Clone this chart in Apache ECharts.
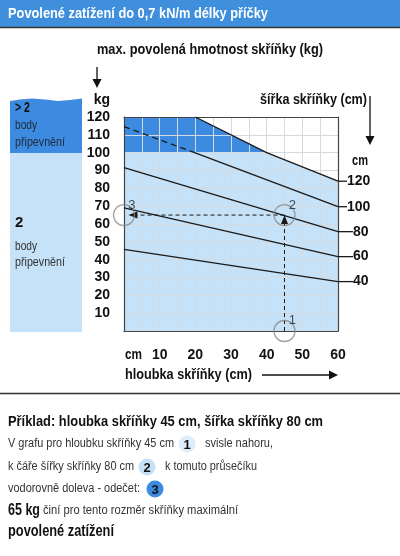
<!DOCTYPE html>
<html>
<head>
<meta charset="utf-8">
<title>Povolené zatížení</title>
<script src="https://cdn.jsdelivr.net/npm/echarts@6/dist/echarts.min.js"></script>
<style>
  html, body { margin: 0; padding: 0; background: #fff; }
  #chart { width: 400px; height: 556px; }
</style>
</head>
<body>
<div id="chart"></div>
<script>
// osa x: hloubka skříňky (cm), osa y: max. povolená hmotnost (kg)
const depthLabels = [10, 20, 30, 40, 50, 60];
const weightLabels = [10, 20, 30, 40, 50, 60, 70, 80, 90, 100, 110, 120];

// horní hranice pole (čára šířky 120 cm) a oblasti podbarvení
const zoneAll = [[0, 120], [20, 120], [40, 100], [60, 84]];
const zoneMulti = [[0, 120], [20, 120], [40, 100]];
const zoneTwo = [[0, 100], [40, 100]];

// čáry šířky skříňky
const line120 = [[20, 120], [40, 100], [60, 84]];
const line100Dashed = [[0, 114.6], [19.4, 100.3]];
const line100 = [[19.4, 100.3], [60, 69.7]];
const line80 = [[0, 91.6], [60, 55.7]];
const line60 = [[0, 69.1], [60, 41.7]];
const line40 = [[0, 45.8], [60, 27.7]];
const widthNames = ['120', '100', '80', '60', '40'];

// příklad: hloubka 45 cm, šířka 80 cm -> 65 kg
const exampleDepth = 45;
const exampleWeight = 65;
const exampleSteps = ['1', '2', '3'];

const DARK = '#3d8be0';
const LIGHT = '#c5e2f8';
const FONT = '"Liberation Sans", Arial, sans-serif';

const chart = echarts.init(document.getElementById('chart'), null, { renderer: 'canvas' });

// text helper, squeezes text to the width measured on the picture
const mctx = document.createElement('canvas').getContext('2d');
function txt(x, y, s, size, weight, w, color, align) {
  let sx = 1;
  if (w) {
    mctx.font = weight + ' ' + size + 'px ' + FONT;
    sx = w / mctx.measureText(s).width;
  }
  return {
    type: 'text', x: x, y: y, scaleX: sx, z: 20,
    style: {
      text: s, fill: color || '#111', fontSize: size, fontWeight: weight,
      fontFamily: FONT, align: align || 'left', verticalAlign: 'middle'
    }
  };
}
function badge(x, y, s, fill) {
  return {
    type: 'group', x: x, y: y, z: 20,
    children: [
      { type: 'circle', shape: { cx: 0, cy: 0, r: 8.5 }, style: { fill: fill } },
      { type: 'text', style: { text: s, x: 0, y: 1, fontSize: 13, fontWeight: 'bold', fontFamily: FONT,
        fill: '#111', align: 'center', verticalAlign: 'middle' } }
    ]
  };
}
function arrowDown(x, y1, y2) {
  return [
    { type: 'line', z: 20, shape: { x1: x, y1: y1, x2: x, y2: y2 - 8 }, style: { stroke: '#111', lineWidth: 1.3 } },
    { type: 'polygon', z: 20, shape: { points: [[x - 4.5, y2 - 9], [x + 4.5, y2 - 9], [x, y2]] }, style: { fill: '#111' } }
  ];
}

function widthLine(data, name, dashed) {
  const s = {
    type: 'line', data: data, z: 5, symbol: 'none', silent: true,
    lineStyle: { color: '#1a1a1a', width: 1.3, type: dashed ? [6, 4] : 'solid' }
  };
  if (name) {
    const tick = name.length > 2 ? 9 : 15;
    s.endLabel = {
      show: true, distance: 0,
      formatter: '{t| }{n|' + name + '}',
      rich: {
        t: { width: tick, height: 1.3, backgroundColor: '#1a1a1a' },
        n: { fontSize: 14, fontWeight: 'bold', color: '#111', fontFamily: FONT }
      }
    };
  }
  return s;
}

function zone(data, color) {
  return {
    type: 'line', data: data, z: 1, symbol: 'none', silent: true,
    lineStyle: { width: 0 }, areaStyle: { color: color, opacity: 1 }
  };
}

const option = {
  animation: false,
  backgroundColor: '#fff',
  grid: { left: 124, top: 117, width: 214, height: 214 },
  xAxis: [{
    type: 'value', min: 0, max: 60, interval: 5, z: 3,
    axisLine: { show: true, onZero: false, lineStyle: { color: '#444', width: 1.2 } },
    axisTick: { show: false },
    splitLine: { show: true, lineStyle: { color: '#d3dbe1', width: 1 } },
    axisLabel: {
      margin: 17, color: '#111', fontSize: 14, fontWeight: 'bold', fontFamily: FONT,
      formatter: v => depthLabels.includes(v) ? String(v) : ''
    }
  }, {
    type: 'value', min: 0, max: 60, position: 'top', z: 3,
    axisLine: { show: true, onZero: false, lineStyle: { color: '#444', width: 1.2 } },
    axisTick: { show: false }, axisLabel: { show: false }, splitLine: { show: false }
  }],
  yAxis: [{
    type: 'value', min: 0, max: 120, interval: 10, z: 3,
    axisLine: { show: true, onZero: false, lineStyle: { color: '#444', width: 1.2 } },
    axisTick: { show: false },
    splitLine: { show: true, lineStyle: { color: '#d3dbe1', width: 1 } },
    axisLabel: {
      margin: 14, color: '#111', fontSize: 14, fontWeight: 'bold', fontFamily: FONT,
      formatter: v => weightLabels.includes(v) ? String(v) : ''
    }
  }, {
    type: 'value', min: 0, max: 120, position: 'right', z: 3,
    axisLine: { show: true, onZero: false, lineStyle: { color: '#444', width: 1.2 } },
    axisTick: { show: false }, axisLabel: { show: false }, splitLine: { show: false }
  }],
  series: [
    zone(zoneAll, LIGHT),
    zone(zoneMulti, DARK),
    zone(zoneTwo, LIGHT),
    widthLine(line120, widthNames[0]),
    widthLine(line100Dashed, null, true),
    widthLine(line100, widthNames[1]),
    widthLine(line80, widthNames[2]),
    widthLine(line60, widthNames[3]),
    widthLine(line40, widthNames[4]),
    {
      type: 'line', z: 6, silent: true, symbol: 'none', showAllSymbol: true,
      lineStyle: { color: '#1a1a1a', width: 1, type: [4, 3] },
      itemStyle: { color: '#1a1a1a' },
      data: [[exampleDepth, 0], { value: [exampleDepth, exampleWeight - 2.5], symbol: 'triangle', symbolSize: [7, 9] }]
    },
    {
      type: 'line', z: 6, silent: true, symbol: 'none', showAllSymbol: true,
      lineStyle: { color: '#1a1a1a', width: 1, type: [4, 3] },
      itemStyle: { color: '#1a1a1a' },
      data: [[exampleDepth, exampleWeight], { value: [2.5, exampleWeight], symbol: 'triangle', symbolSize: [7, 9], symbolRotate: 90 }]
    },
    {
      type: 'scatter', z: 7, silent: true, clip: false, symbolSize: 21,
      itemStyle: { color: 'rgba(0,0,0,0)', borderColor: '#8a8a8a', borderWidth: 1.3 },
      label: {
        show: true, position: [19, 1], align: 'center', verticalAlign: 'middle',
        fontSize: 13, color: '#222', fontFamily: FONT,
        formatter: p => p.value[2]
      },
      data: [
        [exampleDepth, 0, exampleSteps[0]],
        [exampleDepth, exampleWeight, exampleSteps[1]],
        [0, exampleWeight, exampleSteps[2]]
      ]
    }
  ],
  graphic: [
    // title bar
    { type: 'rect', z: 10, shape: { x: 0, y: 0, width: 400, height: 27 }, style: { fill: '#3f8fdc' } },
    { type: 'line', z: 10, shape: { x1: 0, y1: 27.5, x2: 400, y2: 27.5 }, style: { stroke: '#333', lineWidth: 1.5 } },
    txt(8, 14, 'Povolené zatížení do 0,7 kN/m délky příčky', 14, 'bold', 260, '#fff'),

    // axis titles and arrows
    txt(97, 50, 'max. povolená hmotnost skříňky (kg)', 15, 'bold', 226),
    ...arrowDown(97, 67, 88),
    txt(110, 100, 'kg', 14, 'bold', 0, '#111', 'right'),
    txt(260, 100, 'šířka skříňky (cm)', 15, 'bold', 107),
    ...arrowDown(370, 96, 145),
    txt(352, 161, 'cm', 14, 'bold', 16),
    txt(125, 355, 'cm', 14, 'bold', 17),
    txt(125, 375, 'hloubka skříňky (cm)', 15, 'bold', 127),
    { type: 'line', z: 20, shape: { x1: 262, y1: 375, x2: 331, y2: 375 }, style: { stroke: '#111', lineWidth: 1.3 } },
    { type: 'polygon', z: 20, shape: { points: [[329, 370.5], [329, 379.5], [338, 375]] }, style: { fill: '#111' } },

    // left panel: number of fixing points
    { type: 'rect', z: 10, shape: { x: 10, y: 152, width: 72, height: 180 }, style: { fill: LIGHT } },
    { type: 'polygon', z: 10, shape: { points: [[10, 101], [20, 99.5], [32, 98.5], [45, 99.5], [58, 101], [70, 100], [82, 98.5], [82, 153], [10, 153]] }, style: { fill: DARK } },
    txt(15, 108, '> 2', 15, 'bold', 15),
    txt(15, 125.5, 'body', 13, 'normal', 22, '#1e2a38'),
    txt(15, 142, 'připevnění', 13, 'normal', 50, '#1e2a38'),
    txt(15, 223, '2', 15, 'bold', 0),
    txt(15, 246, 'body', 13, 'normal', 22, '#333'),
    txt(15, 262.5, 'připevnění', 13, 'normal', 50, '#333'),

    // example text
    { type: 'line', z: 10, shape: { x1: 0, y1: 393.5, x2: 400, y2: 393.5 }, style: { stroke: '#333', lineWidth: 1.5 } },
    txt(8, 422, 'Příklad: hloubka skříňky 45 cm, šířka skříňky 80 cm', 15, 'bold', 315),
    txt(8, 444, 'V grafu pro hloubku skříňky 45 cm', 12.5, 'normal', 166, '#333'),
    badge(187, 444, '1', '#ddeefa'),
    txt(205, 444, 'svisle nahoru,', 12.5, 'normal', 68, '#333'),
    txt(8, 467, 'k čáře šířky skříňky 80 cm', 12.5, 'normal', 126, '#333'),
    badge(147, 467, '2', '#c6e0f5'),
    txt(165, 467, 'k tomuto průsečíku', 12.5, 'normal', 92, '#333'),
    txt(8, 489, 'vodorovně doleva - odečet:', 12.5, 'normal', 132, '#333'),
    badge(155, 489, '3', DARK),
    txt(8, 511, '65 kg', 16, 'bold', 32),
    txt(43, 511, 'činí pro tento rozměr skříňky maximální', 12.5, 'normal', 195, '#333'),
    txt(8, 532, 'povolené zatížení', 16, 'bold', 106)
  ]
};

chart.setOption(option);
</script>
</body>
</html>
